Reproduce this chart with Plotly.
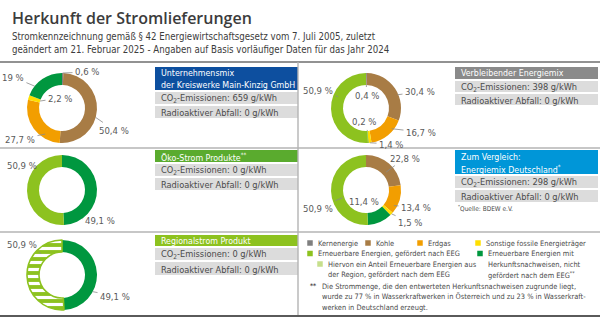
import math
import plotly.graph_objects as go

W, H = 600, 333

# ---------------- data ----------------
categories = ["Kernenergie", "Kohle", "Erdgas", "Sonstige fossile Energieträger",
              "Erneuerbare Energien mit Herkunftsnachweisen, nicht gefördert nach dem EEG",
              "Erneuerbare Energien, gefördert nach EEG"]
unternehmensmix = [0.6, 50.4, 27.7, 2.2, 19.0, 0.0]
verbleibend = [0.4, 30.4, 16.7, 1.4, 0.2, 50.9]
oekostrom = [0.0, 0.0, 0.0, 0.0, 49.1, 50.9]
deutschland = [0.0, 22.8, 13.4, 1.5, 11.4, 50.9]
regionalstrom = [0.0, 0.0, 0.0, 0.0, 49.1, 50.9]

co2_values = [659, 398, 0, 298, 0]
abfall_values = [0, 0, 0, 0, 0]

legend_labels = [["Kernenergie"], ["Kohle"], ["Erdgas"], ["Sonstige fossile Energieträger"],
                 ["Erneuerbare Energien, gefördert nach EEG"],
                 ["Erneuerbare Energien mit", "Herkunftsnachweisen, nicht",
                  "gefördert nach dem EEG<sup>**</sup>"],
                 ["Hiervon ein Anteil Erneuerbare Energien aus",
                  "der Region, gefördert nach dem EEG"]]
footnote_lines = ["Die Strommenge, die den entwerteten Herkunftsnachweisen zugrunde liegt,",
                  "wurde zu 77 % in Wasserkraftwerken in Österreich und zu 23 % in Wasserkraft-",
                  "werken in Deutschland erzeugt."]

# ---------------- styles ----------------
C_KERN = "#7f7f7f"
C_KOHLE = "#a87c45"
C_ERDGAS = "#f29e00"
C_SONST = "#ffdf00"
C_HKN = "#00973f"
C_EEG = "#8dc21f"
C_REGIO = "#c6df8c"
colors = [C_KERN, C_KOHLE, C_ERDGAS, C_SONST, C_HKN, C_EEG]

FONT = "Liberation Sans Narrow, DejaVu Sans Condensed, Arial Narrow, sans-serif"
TXT = "#4a4a4a"
ROW = "#dcdcdc"


def px(x):
    return x / W


def py(y):
    return 1 - y / H


fig = go.Figure()
annotations = []
shapes = []

R_OUT, R_IN = 35, 23


def add_donut(values, cx, cy, labels_spec, regional=False):
    dom_x = [px(cx - R_OUT), px(cx + R_OUT)]
    dom_y = [py(cy + R_OUT), py(cy - R_OUT)]
    marker = dict(colors=colors, line=dict(width=0, color="white"))
    if regional:
        marker = dict(colors=colors,
                      line=dict(width=[0, 0, 0, 0, 0, 1.6], color=[C_EEG] * 6),
                      pattern=dict(shape=["", "", "", "", "", "-"], fgcolor="white",
                                   bgcolor=[c for c in colors],
                                   size=7, solidity=0.45))
    fig.add_trace(go.Pie(values=values, labels=categories, hole=R_IN / R_OUT,
                         sort=False, direction="clockwise", rotation=0,
                         textinfo="none", hoverinfo="skip", showlegend=False,
                         marker=marker, domain=dict(x=dom_x, y=dom_y)))
    total = sum(values)
    cum = []
    c = 0
    for v in values:
        cum.append(c)
        c += v
    for idx, tx, ty, frac, rad in labels_spec:
        v = values[idx]
        ang = (cum[idx] + v * frac) / total * 2 * math.pi
        tx0 = cx + rad * math.sin(ang)
        ty0 = cy - rad * math.cos(ang)
        s = f"{v:g}".replace(".", ",") + " %"
        annotations.append(dict(x=px(tx0), y=py(ty0), xref="paper", yref="paper",
                                ax=tx - tx0, ay=ty - ty0, text=s, showarrow=True,
                                arrowhead=0, arrowwidth=0.8, arrowcolor="#8a8a8a",
                                standoff=0, startstandoff=1,
                                font=dict(family=FONT, size=9.5, color="#5a5a5a")))


add_donut(unternehmensmix, 62, 108, [
    (0, 87, 72, 0.5, 35), (1, 114, 130, 0.57, 35), (2, 20, 139, 0.29, 31),
    (3, 60, 98, 0.5, 23), (4, 13, 77, 0.25, 35)])
add_donut(verbleibend, 366, 108, [
    (0, 367, 95, 0.5, 23), (1, 420, 92, 0.6, 34), (2, 421, 132, 0.3, 33),
    (3, 391, 144, 0.5, 35), (4, 364, 122, 0.5, 23), (5, 318, 90, 0.63, 30)])
add_donut(oekostrom, 62, 190, [(4, 100, 220, 0.82, 35), (5, 22, 165, 0.68, 33)])
add_donut(deutschland, 366, 190, [
    (1, 405, 158, 0.59, 27), (2, 416, 207, 0.77, 32), (3, 410, 222, 0.5, 35),
    (4, 364, 202, 0.3, 23), (5, 318, 208, 0.41, 25)])
add_donut(regionalstrom, 62, 275, [(4, 115, 296, 0.67, 35), (5, 22, 245, 0.76, 30)],
          regional=True)


def rect(x0, y0, x1, y1, color):
    shapes.append(dict(type="rect", xref="paper", yref="paper", x0=px(x0), x1=px(x1),
                       y0=py(y1), y1=py(y0), fillcolor=color, line=dict(width=0),
                       layer="below"))


def line(x0, y0, x1, y1, color, width):
    shapes.append(dict(type="line", xref="paper", yref="paper", x0=px(x0), x1=px(x1),
                       y0=py(y0), y1=py(y1), line=dict(color=color, width=width)))


def text(x, y, s, size=9.5, color=TXT, family=FONT, anchor="left", weight=None):
    f = dict(family=family, size=size, color=color)
    if weight:
        f["weight"] = weight
    annotations.append(dict(x=px(x), y=py(y), xref="paper", yref="paper", text=s,
                            showarrow=False, xanchor=anchor, yanchor="middle",
                            align="left", font=f))


def info_box(x0, x1, head_y0, head_y1, head_lines, head_color, rows_y, co2, abfall):
    rect(x0, head_y0, x1, head_y1, head_color)
    n = len(head_lines)
    step = (head_y1 - head_y0) / n
    for i, hl in enumerate(head_lines):
        text(x0 + 4, head_y0 + step * (i + 0.5) + 0.5, hl, size=8.8, color="white")
    (r1a, r1b), (r2a, r2b) = rows_y
    rect(x0, r1a, x1, r1b, ROW)
    rect(x0, r2a, x1, r2b, ROW)
    text(x0 + 4, (r1a + r1b) / 2 + 0.5, f"CO<sub>2</sub>-Emissionen: {co2} g/kWh", size=9.2)
    text(x0 + 4, (r2a + r2b) / 2 + 0.5, f"Radioaktiver Abfall: {abfall} g/kWh", size=9.2)


info_box(155, 298, 67, 90, ["Unternehmensmix", "der Kreiswerke Main-Kinzig GmbH"], "#0d4f9f",
         [(92, 104), (106, 118)], co2_values[0], abfall_values[0])
info_box(455, 598, 67, 79, ["Verbleibender Energiemix"], "#8a8a8a",
         [(81, 92), (94, 105)], co2_values[1], abfall_values[1])
info_box(155, 298, 150, 162, ["Öko-Strom Produkte<sup>**</sup>"], "#5aab2e",
         [(164, 176), (178, 190)], co2_values[2], abfall_values[2])
info_box(455, 598, 150, 174, ["Zum Vergleich:", "Energiemix Deutschland<sup>*</sup>"], "#0096d8",
         [(176, 188), (190, 202)], co2_values[3], abfall_values[3])
text(456, 208, "<sup>*</sup>Quelle: BDEW e.V.", size=6.5, color=TXT)
info_box(155, 298, 235, 246, ["Regionalstrom Produkt"], "#8dc21f",
         [(248, 260), (262, 275)], co2_values[4], abfall_values[4])

# separators
line(0, 62, 600, 62, "#6e6e6e", 1.6)
line(0, 148, 600, 148, "#b4b4b4", 1.4)
line(0, 232, 600, 232, "#b4b4b4", 1.4)
line(298, 62, 298, 316, "#b4b4b4", 1.4)
line(0, 316, 600, 316, "#5a5a5a", 2)

# title
text(10, 18, "Herkunft der Stromlieferungen", size=16, color="#3c3c3c",
     family="Open Sans, sans-serif", weight=600)
text(10, 36, "Stromkennzeichnung gemäß § 42 Energiewirtschaftsgesetz vom 7. Juli 2005, zuletzt",
     size=9.6, color="#3c3c3c")
text(10, 50, "geändert am 21. Februar 2025 - Angaben auf Basis vorläufiger Daten für das Jahr 2024",
     size=9.6, color="#3c3c3c")

# legend
SW = 5.5
LFS = 7.4
LH = 10.5
leg_items = [
    (C_KERN, 310, 243),
    (C_KOHLE, 368, 243),
    (C_ERDGAS, 420, 243),
    (C_SONST, 478, 243),
    (C_EEG, 310, 253.5),
    (C_HKN, 480, 253.5),
    (C_REGIO, 320, 264),
]
for (col, lx, ly), lab_lines in zip(leg_items, legend_labels):
    rect(lx - SW / 2, ly - SW / 2, lx + SW / 2, ly + SW / 2, col)
    for j, ln in enumerate(lab_lines):
        text(lx + 6, ly + j * LH, ln, size=LFS, color=TXT)

text(308, 286, "<b>**</b>", size=6.5, color=TXT)
for j, ln in enumerate(footnote_lines):
    text(320, 286.5 + j * 10.3, ln, size=LFS, color=TXT)

fig.update_layout(width=W, height=H, margin=dict(l=0, r=0, t=0, b=0),
                  paper_bgcolor="white", plot_bgcolor="white",
                  annotations=annotations, shapes=shapes, showlegend=False)
fig.write_html("out.html")
